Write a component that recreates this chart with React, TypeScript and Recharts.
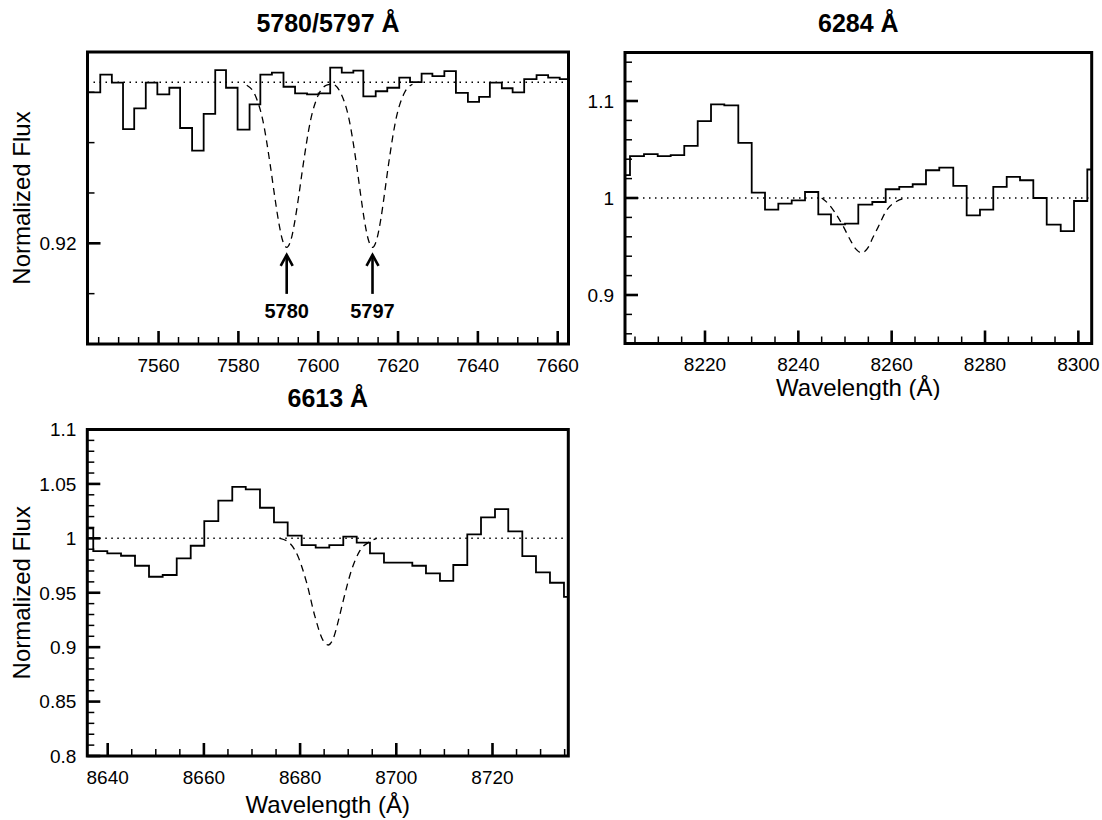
import { LineChart, Line, XAxis, YAxis, ReferenceLine, ReferenceArea, ReferenceDot } from "recharts";

const FONT = '"Liberation Sans", Arial, Helvetica, sans-serif';

// ---- 5780/5797 panel ----
const wl5780 = [7542.2, 7545.4, 7548.3, 7551.1, 7553.9, 7556.8, 7559.7, 7562.7, 7565.4, 7568.4, 7571.3, 7574.2, 7576.9, 7579.8, 7582.8, 7585.5, 7588.4, 7591.3, 7594.2, 7597.2, 7600.1, 7603.0, 7605.9, 7608.8, 7611.3, 7614.4, 7617.3, 7620.3, 7623.0, 7625.9, 7628.6, 7631.6, 7634.5, 7637.5, 7640.3, 7643.0, 7646.0, 7648.7, 7651.6, 7654.7, 7657.6, 7660.5, 7662.7];
const flux5780 = [0.95, 0.9535, 0.9519, 0.9427, 0.9468, 0.9519, 0.9496, 0.9509, 0.9429, 0.9384, 0.9457, 0.9544, 0.9509, 0.9426, 0.9476, 0.9535, 0.9539, 0.9511, 0.9498, 0.9496, 0.9498, 0.9549, 0.9539, 0.9543, 0.9492, 0.9502, 0.9509, 0.9529, 0.952, 0.9537, 0.9532, 0.9542, 0.9499, 0.9481, 0.9491, 0.9519, 0.9508, 0.95, 0.9526, 0.9534, 0.9529, 0.9526];
const modelWl5780 = [7582.1, 7584.1, 7586.1, 7588.1, 7589.1, 7590.1, 7591.1, 7592.1, 7593.1, 7594.1, 7595.1, 7596.1, 7598.1, 7600.1, 7602.1, 7603.6, 7605.6, 7607.6, 7609.6, 7610.6, 7611.6, 7612.6, 7613.6, 7614.6, 7615.6, 7616.6, 7617.6, 7619.6, 7621.6, 7623.6];
const modelFlux5780 = [0.9514, 0.9496, 0.9445, 0.9349, 0.9293, 0.9242, 0.9205, 0.9192, 0.9205, 0.9242, 0.9293, 0.9349, 0.9445, 0.9496, 0.9514, 0.9516, 0.9499, 0.9451, 0.9356, 0.9298, 0.9244, 0.9206, 0.9192, 0.9206, 0.9244, 0.9298, 0.9356, 0.9451, 0.9499, 0.9516];
const continuum5780 = 0.952;
const arrowWl = [7592.1, 7613.6];
const arrowText = ["5780", "5797"];
const arrowTip = 0.9179;
const xDom5780 = [7542.2, 7662.7];
const yDom5780 = [0.9, 0.958];
const xTicks5780 = [7545, 7550, 7555, 7560, 7565, 7570, 7575, 7580, 7585, 7590, 7595, 7600, 7605, 7610, 7615, 7620, 7625, 7630, 7635, 7640, 7645, 7650, 7655, 7660];
const yTicks5780 = [0.91, 0.92, 0.93, 0.94, 0.95];

// ---- 6284 panel ----
const wl6284 = [8202.86, 8203.93, 8206.93, 8209.87, 8212.65, 8215.56, 8218.44, 8221.29, 8224.14, 8227.14, 8230.01, 8232.86, 8235.71, 8238.58, 8241.43, 8244.28, 8247.0, 8250.0, 8252.85, 8255.85, 8258.72, 8261.63, 8264.5, 8267.35, 8270.2, 8273.2, 8276.07, 8278.92, 8281.77, 8284.65, 8287.5, 8290.35, 8293.22, 8296.22, 8299.07, 8301.92, 8302.86];
const flux6284 = [1.0235, 1.0431, 1.0452, 1.0431, 1.0442, 1.0538, 1.0793, 1.0966, 1.0955, 1.0569, 1.0056, 0.988, 0.9942, 0.9976, 1.0062, 0.9831, 0.9728, 0.9735, 0.9932, 0.9959, 1.009, 1.0114, 1.0142, 1.0286, 1.0314, 1.0124, 0.9821, 0.988, 1.0114, 1.0217, 1.0183, 1.0, 0.9725, 0.9659, 0.9969, 1.0294];
const modelWl6284 = [8245.0, 8246.4, 8248.0, 8249.6, 8251.1, 8252.3, 8253.6, 8255.0, 8256.0, 8257.1, 8258.9, 8261.1, 8263.0];
const modelFlux6284 = [1.0, 0.9942, 0.984, 0.971, 0.957, 0.9475, 0.9435, 0.9493, 0.9595, 0.97, 0.9873, 0.9966, 1.0];
const xDom6284 = [8202.86, 8302.86];
const yDom6284 = [0.85, 1.15];
const xTicks6284 = [8205, 8210, 8215, 8220, 8225, 8230, 8235, 8240, 8245, 8250, 8255, 8260, 8265, 8270, 8275, 8280, 8285, 8290, 8295, 8300];
const yTicks6284 = [0.86, 0.88, 0.9, 0.92, 0.94, 0.96, 0.98, 1, 1.02, 1.04, 1.06, 1.08, 1.1, 1.12, 1.14];

// ---- 6613 panel ----
const wl6613 = [8635.76, 8637.0, 8639.92, 8642.77, 8645.68, 8648.59, 8651.43, 8654.35, 8657.26, 8660.08, 8663.0, 8665.9, 8668.7, 8671.66, 8674.57, 8677.42, 8680.33, 8683.24, 8686.07, 8688.98, 8691.77, 8694.53, 8697.44, 8700.42, 8703.33, 8706.17, 8709.08, 8711.85, 8714.76, 8717.61, 8720.52, 8723.28, 8726.2, 8729.04, 8731.95, 8734.86, 8735.76];
const flux6613 = [1.0092, 0.9883, 0.9862, 0.984, 0.9748, 0.9647, 0.9663, 0.9816, 0.9932, 1.0159, 1.0346, 1.0472, 1.045, 1.0281, 1.0147, 1.0024, 0.9938, 0.9914, 0.9938, 1.0015, 0.996, 0.9862, 0.9776, 0.9776, 0.9748, 0.9678, 0.961, 0.9755, 1.0037, 1.0193, 1.0269, 1.0064, 0.9837, 0.9688, 0.9592, 0.9463];
const modelWl6613 = [8675.8, 8677.9, 8679.6, 8681.4, 8683.1, 8684.8, 8685.9, 8686.9, 8688.0, 8689.0, 8690.7, 8692.5, 8694.5, 8695.9];
const modelFlux6613 = [1.0, 0.9954, 0.983, 0.9586, 0.928, 0.906, 0.902, 0.908, 0.925, 0.9433, 0.9709, 0.9892, 0.9969, 1.0];
const xDom6613 = [8635.76, 8735.76];
const yDom6613 = [0.8, 1.1];
const xTicks6613 = [8640, 8645, 8650, 8655, 8660, 8665, 8670, 8675, 8680, 8685, 8690, 8695, 8700, 8705, 8710, 8715, 8720, 8725, 8730, 8735];
const yTicks6613 = [0.8, 0.81, 0.82, 0.83, 0.84, 0.85, 0.86, 0.87, 0.88, 0.89, 0.9, 0.91, 0.92, 0.93, 0.94, 0.95, 0.96, 0.97, 0.98, 0.99, 1, 1.01, 1.02, 1.03, 1.04, 1.05, 1.06, 1.07, 1.08, 1.09, 1.1];

const near = (a: number, b: number) => Math.abs(a - b) < 1e-6;
const fmt = (v: number) => String(+v.toFixed(2));

// step histogram: last edge repeats the last bin value
const steps = (wl: number[], flux: number[]) =>
  wl.map((x, i) => ({ x, y: flux[Math.min(i, flux.length - 1)] }));
const pts = (wl: number[], flux: number[]) => wl.map((x, i) => ({ x, y: flux[i] }));

const TICK_FS = 19;

const makeXTick = (isMajor: (v: number) => boolean) => (props: any) => {
  const { x, y, payload } = props;
  const major = isMajor(payload.value);
  return (
    <g>
      <line x1={x} x2={x} y1={y} y2={y - (major ? 13 : 7)} stroke="#000" strokeWidth={major ? 2.6 : 1.5} />
      {major && (
        <text x={x} y={y + 27.5} textAnchor="middle" fontSize={TICK_FS} fontFamily={FONT} fill="#000">
          {payload.value}
        </text>
      )}
    </g>
  );
};

const makeYTick = (isMajor: (v: number) => boolean) => (props: any) => {
  const { x, y, payload } = props;
  const major = isMajor(payload.value);
  return (
    <g>
      <line x1={x} x2={x + (major ? 13 : 7)} y1={y} y2={y} stroke="#000" strokeWidth={major ? 2.6 : 1.5} />
      {major && (
        <text x={x - 11} y={y} dy="0.36em" textAnchor="end" fontSize={TICK_FS} fontFamily={FONT} fill="#000">
          {fmt(payload.value)}
        </text>
      )}
    </g>
  );
};

const yTitle = (p: any) => {
  const vb = p.viewBox;
  const cx = vb.x + vb.width - 66;
  const cy = vb.y + vb.height / 2;
  return (
    <text x={cx} y={cy} dy="0.35em" transform={`rotate(-90 ${cx} ${cy})`} textAnchor="middle" fontSize={24} fontFamily={FONT} fill="#000">
      Normalized Flux
    </text>
  );
};

const makeXTitle = (offset: number) => (p: any) => {
  const vb = p.viewBox;
  return (
    <text x={vb.x + vb.width / 2} y={vb.y + offset} textAnchor="middle" fontSize={24} fontFamily={FONT} fill="#000">
      Wavelength (Å)
    </text>
  );
};

const Arrow = (props: any) => {
  const { cx, cy, text } = props;
  return (
    <g>
      <line x1={cx} x2={cx} y1={cy + 1} y2={cy + 40} stroke="#000" strokeWidth={2.6} />
      <polyline points={`${cx - 6},${cy + 12} ${cx},${cy + 1} ${cx + 6},${cy + 12}`} fill="none" stroke="#000" strokeWidth={2.6} />
      <text x={cx} y={cy + 64} textAnchor="middle" fontSize={20} fontWeight="bold" fontFamily={FONT} fill="#000">
        {text}
      </text>
    </g>
  );
};

const Frame = ({ xd, yd }: { xd: number[]; yd: number[] }) => (
  <ReferenceArea x1={xd[0]} x2={xd[1]} y1={yd[0]} y2={yd[1]} fill="none" fillOpacity={0} stroke="#000" strokeWidth={3} ifOverflow="visible" />
);

const histStyle = { stroke: "#000", strokeWidth: 1.8 };

export default function App() {
  const major20 = (v: number) => v % 20 === 0;
  return (
    <div style={{ position: "absolute", left: 0, top: 0, width: 1102, height: 820, background: "#fff", fontFamily: FONT }}>
      {/* 5780/5797 */}
      <div style={{ position: "absolute", left: 0, top: 0 }}>
        <LineChart width={600} height={400} margin={{ top: 52, right: 31.5, bottom: 26, left: 27.5 }}>
          <XAxis type="number" dataKey="x" domain={xDom5780} allowDataOverflow ticks={xTicks5780} interval={0} tickSize={0} tickMargin={0} axisLine={false} tickLine={false} height={30} tick={makeXTick(major20)} />
          <YAxis type="number" dataKey="y" domain={yDom5780} allowDataOverflow ticks={yTicks5780} interval={0} tickSize={0} tickMargin={0} axisLine={false} tickLine={false} width={60} tick={makeYTick((v) => near(v, 0.92))} label={{ content: yTitle }} />
          <ReferenceLine y={continuum5780} stroke="#000" strokeWidth={1.5} strokeDasharray="1.5 4.5" />
          <Line data={pts(modelWl5780, modelFlux5780)} dataKey="y" type="monotone" stroke="#000" strokeWidth={1.3} strokeDasharray="7 5" dot={false} activeDot={false} isAnimationActive={false} />
          <Line data={steps(wl5780, flux5780)} dataKey="y" type="stepAfter" {...histStyle} dot={false} activeDot={false} isAnimationActive={false} />
          {arrowWl.map((w, i) => (
            <ReferenceDot key={w} x={w} y={arrowTip} r={0} shape={(p: any) => <Arrow {...p} text={arrowText[i]} />} />
          ))}
          {Frame({ xd: xDom5780, yd: yDom5780 })}
        </LineChart>
      </div>

      {/* 6284 */}
      <div style={{ position: "absolute", left: 560, top: 0 }}>
        <LineChart width={542} height={400} margin={{ top: 52.5, right: 10.3, bottom: 26.5, left: 5 }}>
          <XAxis type="number" dataKey="x" domain={xDom6284} allowDataOverflow ticks={xTicks6284} interval={0} tickSize={0} tickMargin={0} axisLine={false} tickLine={false} height={30} tick={makeXTick(major20)} label={{ content: makeXTitle(52) }} />
          <YAxis type="number" dataKey="y" domain={yDom6284} allowDataOverflow ticks={yTicks6284} interval={0} tickSize={0} tickMargin={0} axisLine={false} tickLine={false} width={60} tick={makeYTick((v) => near(v * 10, Math.round(v * 10)))} />
          <ReferenceLine y={1} stroke="#000" strokeWidth={1.5} strokeDasharray="1.5 4.5" />
          <Line data={pts(modelWl6284, modelFlux6284)} dataKey="y" type="monotone" stroke="#000" strokeWidth={1.3} strokeDasharray="7 5" dot={false} activeDot={false} isAnimationActive={false} />
          <Line data={steps(wl6284, flux6284)} dataKey="y" type="stepAfter" {...histStyle} dot={false} activeDot={false} isAnimationActive={false} />
          {Frame({ xd: xDom6284, yd: yDom6284 })}
        </LineChart>
      </div>

      {/* 6613 */}
      <div style={{ position: "absolute", left: 0, top: 380 }}>
        <LineChart width={600} height={440} margin={{ top: 49.5, right: 31.7, bottom: 34, left: 27.3 }}>
          <XAxis type="number" dataKey="x" domain={xDom6613} allowDataOverflow ticks={xTicks6613} interval={0} tickSize={0} tickMargin={0} axisLine={false} tickLine={false} height={30} tick={makeXTick(major20)} label={{ content: makeXTitle(57) }} />
          <YAxis type="number" dataKey="y" domain={yDom6613} allowDataOverflow ticks={yTicks6613} interval={0} tickSize={0} tickMargin={0} axisLine={false} tickLine={false} width={60} tick={makeYTick((v) => near(v * 20, Math.round(v * 20)))} label={{ content: yTitle }} />
          <ReferenceLine y={1} stroke="#000" strokeWidth={1.5} strokeDasharray="1.5 4.5" />
          <Line data={pts(modelWl6613, modelFlux6613)} dataKey="y" type="monotone" stroke="#000" strokeWidth={1.3} strokeDasharray="7 5" dot={false} activeDot={false} isAnimationActive={false} />
          <Line data={steps(wl6613, flux6613)} dataKey="y" type="stepAfter" {...histStyle} dot={false} activeDot={false} isAnimationActive={false} />
          {Frame({ xd: xDom6613, yd: yDom6613 })}
        </LineChart>
      </div>

      {/* panel titles */}
      <svg width={1102} height={820} style={{ position: "absolute", left: 0, top: 0, pointerEvents: "none" }}>
        <g fontFamily={FONT} fontSize={25} fontWeight="bold" textAnchor="middle" fill="#000">
          <text x={328} y={31.5}>5780/5797 Å</text>
          <text x={858.3} y={31.5}>6284 Å</text>
          <text x={327.8} y={407}>6613 Å</text>
        </g>
      </svg>
    </div>
  );
}
